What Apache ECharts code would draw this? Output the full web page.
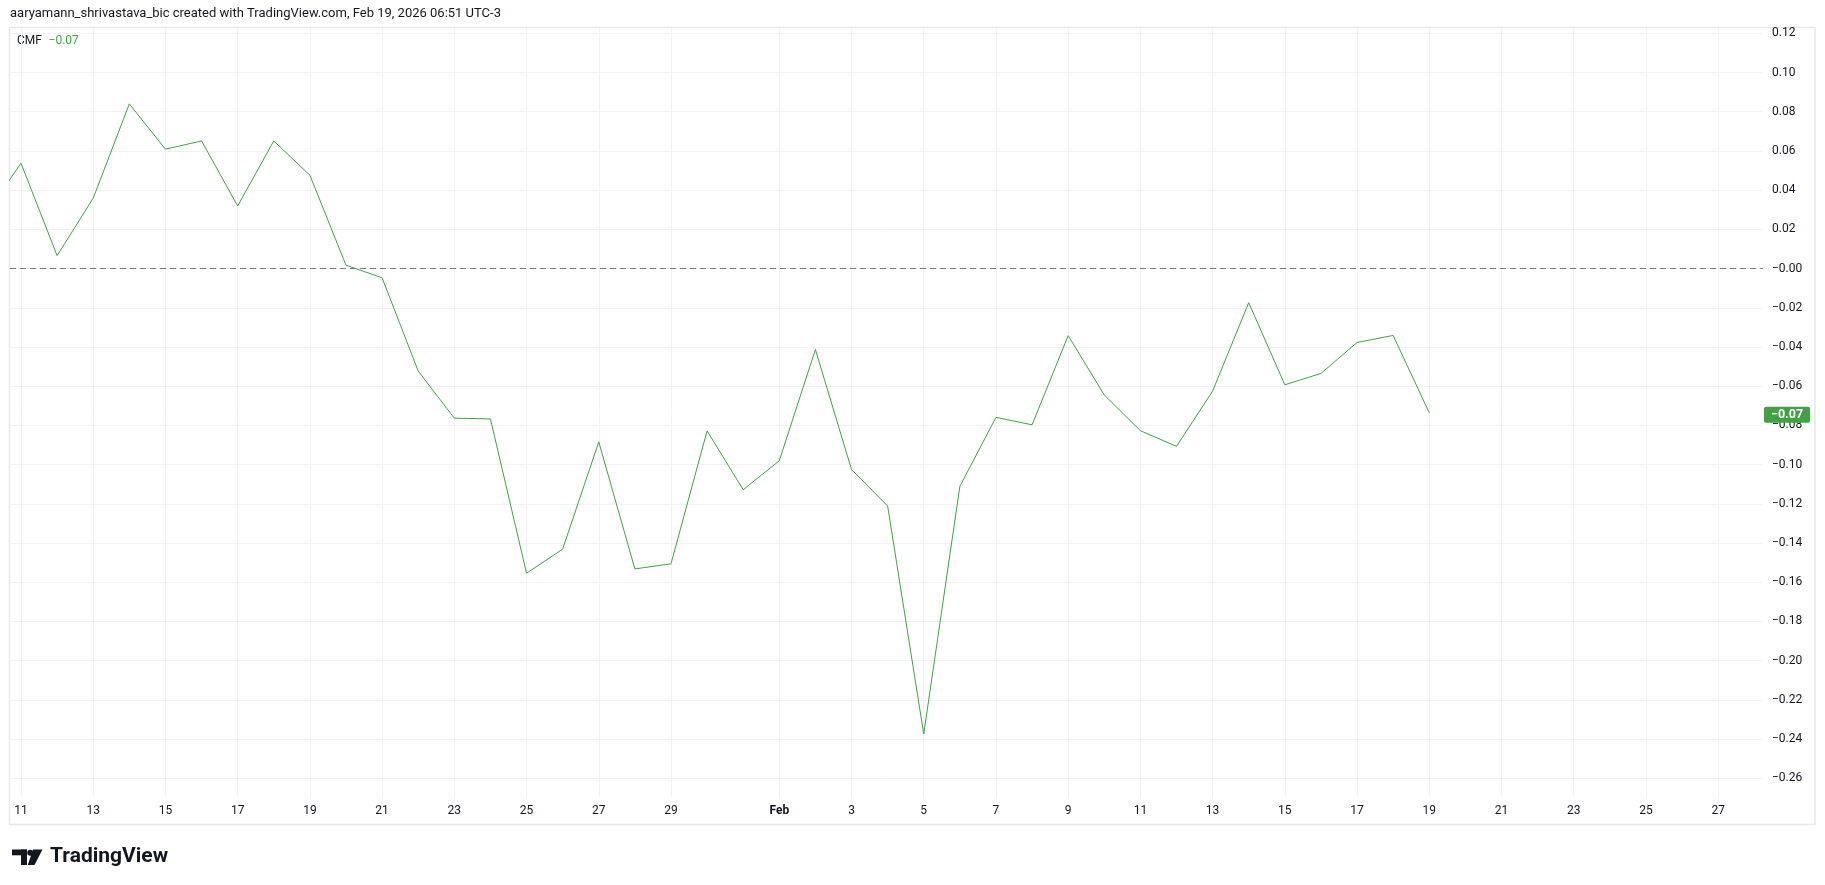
<!DOCTYPE html>
<html><head><meta charset="utf-8">
<script src="https://cdn.jsdelivr.net/npm/echarts@6/dist/echarts.min.js"></script>
<style>html,body{margin:0;padding:0;background:#fff}#c{width:1825px;height:885px}</style>
</head><body><div id="c"></div>
<script>
// ---- data ----
const dates = [
  '2026-01-10','2026-01-11','2026-01-12','2026-01-13','2026-01-14','2026-01-15','2026-01-16',
  '2026-01-17','2026-01-18','2026-01-19','2026-01-20','2026-01-21','2026-01-22','2026-01-23',
  '2026-01-24','2026-01-25','2026-01-26','2026-01-27','2026-01-28','2026-01-29','2026-01-30',
  '2026-01-31','2026-02-01','2026-02-02','2026-02-03','2026-02-04','2026-02-05','2026-02-06',
  '2026-02-07','2026-02-08','2026-02-09','2026-02-10','2026-02-11','2026-02-12','2026-02-13',
  '2026-02-14','2026-02-15','2026-02-16','2026-02-17','2026-02-18','2026-02-19'
];
const cmf = [
  0.027, 0.0537, 0.0066, 0.0359, 0.0840, 0.0609, 0.0651,
  0.0319, 0.0651, 0.0476, 0.0017, -0.0047, -0.0523, -0.0763,
  -0.0767, -0.1554, -0.1431, -0.0884, -0.1532, -0.1506, -0.0828,
  -0.1128, -0.0980, -0.0413, -0.1025, -0.1211, -0.2374, -0.1111,
  -0.0759, -0.0797, -0.0342, -0.0645, -0.0827, -0.0907, -0.0625,
  -0.0174, -0.0593, -0.0535, -0.0377, -0.0341, -0.0736
];
const tickDates = [
  '2026-01-11','2026-01-13','2026-01-15','2026-01-17','2026-01-19','2026-01-21','2026-01-23',
  '2026-01-25','2026-01-27','2026-01-29','2026-02-01','2026-02-03','2026-02-05','2026-02-07',
  '2026-02-09','2026-02-11','2026-02-13','2026-02-15','2026-02-17','2026-02-19','2026-02-21',
  '2026-02-23','2026-02-25','2026-02-27'
];
const tickLabels = ['11','13','15','17','19','21','23','25','27','29','Feb','3','5','7','9','11','13','15','17','19','21','23','25','27'];
const yTicks = [-0.26,-0.24,-0.22,-0.20,-0.18,-0.16,-0.14,-0.12,-0.10,-0.08,-0.06,-0.04,-0.02,0,0.02,0.04,0.06,0.08,0.10,0.12];
const headerText = 'aaryamann_shrivastava_bic created with TradingView.com, Feb 19, 2026 06:51 UTC-3';
const indicatorName = 'CMF';
const zeroLevel = 0;

// ---- helpers ----
const base = Date.UTC(2026, 0, 11);
const dayIdx = s => (Date.parse(s + 'T00:00:00Z') - base) / 86400000;
const fmt = v => (v <= 0 ? '\u2212' : '') + Math.abs(v).toFixed(2);
const tickVals = tickDates.map(dayIdx);
const seriesData = dates.map((d, i) => [dayIdx(d), cmf[i]]);
const last = cmf[cmf.length - 1];
const GREEN = '#43a047';
const TXT = '#131722';
const FONT = 'Roboto, "Noto Sans", sans-serif';

const chart = echarts.init(document.getElementById('c'), null, {renderer: 'canvas'});
chart.setOption({
  animation: false,
  backgroundColor: '#ffffff',
  textStyle: {fontFamily: FONT},
  grid: {left: 10, right: 62, top: 28, bottom: 88, containLabel: false},
  xAxis: {
    type: 'value',
    min: -0.3046, max: 48.242,
    axisLine: {show: false},
    axisTick: {show: false, customValues: tickVals},
    splitLine: {show: true, lineStyle: {color: '#f0f2f5', width: 1}},
    axisLabel: {
      customValues: tickVals,
      margin: 8,
      color: TXT, fontSize: 12, fontFamily: FONT,
      formatter: v => {
        const i = tickVals.indexOf(Math.round(v));
        const t = i >= 0 ? tickLabels[i] : '';
        return /^\d+$/.test(t) ? t : '{b|' + t + '}';
      },
      rich: {b: {fontWeight: 'bold', color: TXT, fontSize: 12, fontFamily: FONT}}
    }
  },
  yAxis: {
    type: 'value',
    position: 'right',
    min: -0.26954, max: 0.1227,
    axisLine: {show: false},
    axisTick: {show: false, customValues: yTicks},
    splitLine: {show: true, lineStyle: {color: '#f0f2f5', width: 1}},
    axisLabel: {
      customValues: yTicks,
      margin: 9,
      color: TXT, fontSize: 12, fontFamily: FONT,
      formatter: v => fmt(v)
    }
  },
  series: [{
    type: 'line',
    data: seriesData,
    showSymbol: false,
    clip: true,
    lineStyle: {color: GREEN, width: 1},
    itemStyle: {color: GREEN},
    z: 3,
    markLine: {
      symbol: 'none', silent: true, animation: false,
      data: [
        {yAxis: zeroLevel, lineStyle: {color: '#787b86', type: [6, 4], width: 1}, label: {show: false}},
        {yAxis: last, lineStyle: {color: 'rgba(0,0,0,0)', width: 1},
         label: {show: true, position: 'end', distance: 1, formatter: fmt(last),
                 align: 'left', verticalAlign: 'middle', offset: [0, 9],
                 backgroundColor: GREEN, color: '#ffffff', fontWeight: 'bold', fontSize: 12.5,
                 fontFamily: FONT, padding: [2, 7, 1, 7], borderRadius: 2}}
      ]
    }
  }],
  graphic: [
    {type: 'rect', silent: true, z: 0,
     shape: {x: 9.5, y: 27.5, width: 1805.5, height: 797},
     style: {fill: 'none', stroke: '#e6e8ec', lineWidth: 1.5}},
    {type: 'text', left: 10, top: 7, silent: true,
     style: {text: headerText, fill: TXT, font: '13px ' + FONT}},
    {type: 'text', left: 17, top: 35, silent: true,
     style: {text: '{n|' + indicatorName + '}  {v|' + fmt(last) + '}',
             rich: {n: {fill: TXT, fontSize: 12, fontFamily: FONT}, v: {fill: GREEN, fontSize: 12, fontFamily: FONT}}}},
    {type: 'group', left: 12, top: 846, silent: true, children: [
      {type: 'rect', shape: {x: 0, y: 0, width: 15, height: 5.8}, style: {fill: '#131722'}},
      {type: 'rect', shape: {x: 9, y: 0, width: 6, height: 15.5}, style: {fill: '#131722'}},
      {type: 'circle', shape: {cx: 18.2, cy: 3.2, r: 3}, style: {fill: '#131722'}},
      {type: 'polygon', shape: {points: [[21, 0], [30.5, 0], [22.5, 15.5], [15.8, 15.5]]}, style: {fill: '#131722'}},
      {type: 'text', x: 38, y: -3.5, style: {text: 'TradingView', fill: '#131722', font: 'bold 21px ' + FONT}}
    ]}
  ]
});
</script></body></html>
